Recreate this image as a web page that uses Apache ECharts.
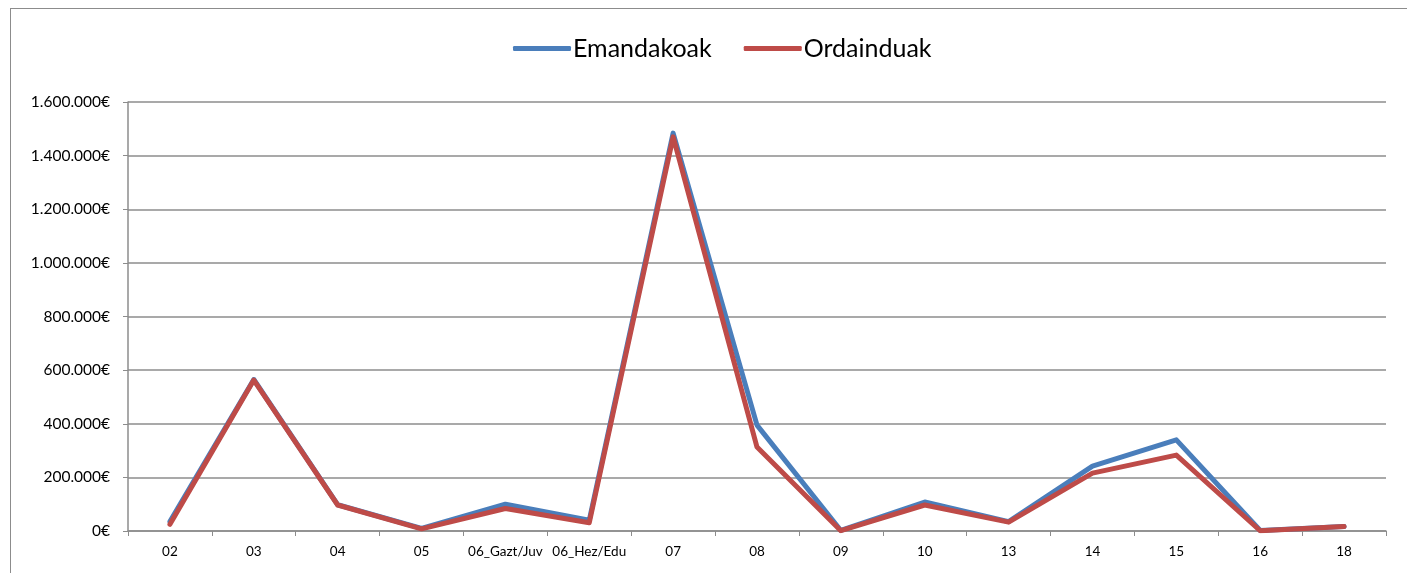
<!DOCTYPE html>
<html>
<head>
<meta charset="utf-8">
<script src="https://cdn.jsdelivr.net/npm/echarts@6/dist/echarts.min.js"></script>
<style>
  html, body { margin: 0; padding: 0; background: #fff; }
  #wrap { position: relative; width: 1407px; height: 573px; overflow: hidden; }
  #frame { position: absolute; left: 10px; top: 8px; width: 1410px; height: 580px; border: 1.5px solid #8c8c8c; box-sizing: border-box; }
  #chart { position: absolute; left: 0; top: 0; width: 1407px; height: 573px; }
</style>
</head>
<body>
<div id="wrap">
  <div id="frame"></div>
  <div id="chart"></div>
</div>
<script>
  const categories = ['02', '03', '04', '05', '06_Gazt/Juv', '06_Hez/Edu', '07', '08', '09', '10', '13', '14', '15', '16', '18'];
  const emandakoak = [35000, 565000, 98000, 10000, 100000, 40000, 1484000, 395000, 2000, 108000, 35000, 242000, 340000, 2000, 17000];
  const ordainduak = [25000, 563000, 97000, 8000, 84000, 31000, 1470000, 313000, 1000, 97000, 33000, 216000, 283000, 1000, 17000];

  const chart = echarts.init(document.getElementById('chart'));

  const fmtEuro = v => String(v).replace(/\B(?=(\d{3})+(?!\d))/g, '.') + '€';
  const gridColor = '#8c8c8c';

  chart.setOption({
    animation: false,
    textStyle: { fontFamily: 'Lato, "Open Sans", sans-serif' },
    legend: {
      top: 31,
      left: 508,
      itemGap: 32,
      itemWidth: 58,
      itemHeight: 5,
      icon: 'roundRect',
      textStyle: { fontSize: 25, color: '#000', padding: [0, 0, 0, -3] },
      data: ['Emandakoak', 'Ordainduak']
    },
    grid: { left: 128, right: 21, top: 102, bottom: 42 },
    xAxis: {
      type: 'category',
      data: categories,
      boundaryGap: true,
      axisLine: { lineStyle: { color: gridColor, width: 1.5 } },
      axisTick: { show: true, interval: 0, length: 5, lineStyle: { color: gridColor } },
      axisLabel: { interval: 0, color: '#000', fontSize: 13.5, margin: 14, hideOverlap: false }
    },
    yAxis: {
      type: 'value',
      min: 0,
      max: 1600000,
      interval: 200000,
      axisLine: { show: true, lineStyle: { color: gridColor, width: 1.5 } },
      axisTick: { show: true, length: 5, lineStyle: { color: gridColor } },
      axisLabel: { color: '#000', fontSize: 15.5, margin: 18, formatter: fmtEuro },
      splitLine: { lineStyle: { color: gridColor, width: 1.5 } }
    },
    series: [
      {
        name: 'Emandakoak',
        type: 'line',
        data: emandakoak,
        symbol: 'none',
        color: '#4a7ebb',
        lineStyle: { width: 5, color: '#4a7ebb', cap: 'round', join: 'round' }
      },
      {
        name: 'Ordainduak',
        type: 'line',
        data: ordainduak,
        symbol: 'none',
        color: '#be4b48',
        lineStyle: { width: 5, color: '#be4b48', cap: 'round', join: 'round' }
      }
    ]
  });
</script>
</body>
</html>
